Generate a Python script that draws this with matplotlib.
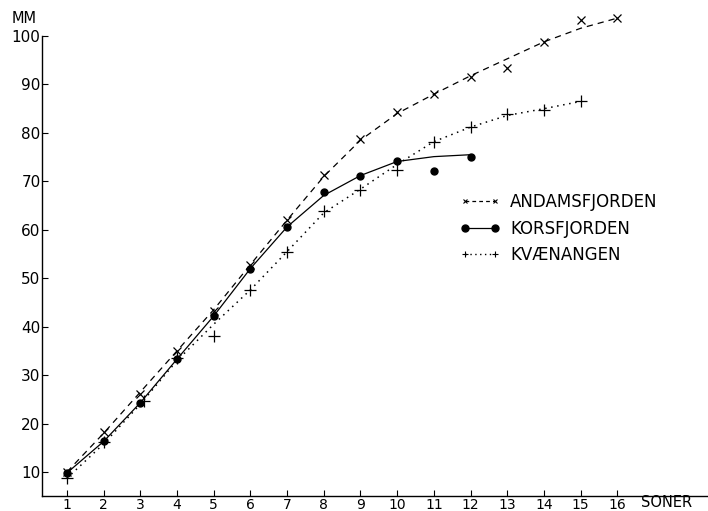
import numpy as np
import matplotlib
matplotlib.use("Agg")
import matplotlib.pyplot as plt
from matplotlib.lines import Line2D

# ----------------------------------------------------------------------
# DATA
# ----------------------------------------------------------------------

# soner (zones) on the x axis
soner = list(range(1, 17))

# measured points (mm)
andamsfjorden = [10, 18.2, 26.1, 34.9, 43.3, 52.7, 62, 71.4, 78.8,
                 84.3, 88, 91.6, 93.5, 98.8, 103.3, 103.7]
korsfjorden = [9.8, 16.3, 24.3, 33.3, 42.2, 52, 60.6, 67.9, 71.2,
               74.1, 72.1, 75.1]
kvaenangen = [8.7, 16.1, 24.7, 33.5, 38, 47.6, 55.5, 63.9, 68.3,
              72.3, 78.2, 81.2, 84, 84.8, 86.5]

andamsfjorden_curve = [10, 18, 26.5, 35, 43.5, 52.8, 62, 71, 78.5,
                       84, 88, 91.8, 95.3, 98.8, 101.6, 103.7]
korsfjorden_curve = [9.8, 16.3, 24.3, 33.3, 42.2, 52, 60.6, 67.1, 71.2,
                     74.1, 75.1, 75.5]
kvaenangen_curve = [8.7, 15.8, 24, 33, 40.5, 47.6, 55.5, 63.5, 68.4,
                    73.5, 78.2, 81.2, 83.6, 85, 86.5]

# a few markers sit slightly off their zone line
kvaenangen_x = [1, 2, 3.1, 4, 5, 6, 7, 8, 9, 10, 11, 12, 13, 14, 15]

y_ticks = list(range(10, 101, 10))

# ----------------------------------------------------------------------
# PLOT
# ----------------------------------------------------------------------

fig = plt.figure(figsize=(7.08, 5.11), dpi=100)
ax = fig.add_axes([0.0593, 0.029, 0.9407, 0.9005])

n_a = len(andamsfjorden)
n_k = len(korsfjorden)
n_v = len(kvaenangen)

# curves
ax.plot(soner[:n_a], andamsfjorden_curve, color="black", lw=0.9,
        linestyle=(0, (5, 4)), clip_on=False)
ax.plot(soner[:n_k], korsfjorden_curve, color="black", lw=0.9,
        linestyle="-", clip_on=False)
ax.plot(soner[:n_v], kvaenangen_curve, color="black", lw=1.1,
        linestyle=(0, (1, 3)), clip_on=False)

# points
ax.plot(soner[:n_a], andamsfjorden, "x", color="black", ms=5.5, mew=0.9,
        clip_on=False)
ax.plot(soner[:n_k], korsfjorden, "o", color="black", ms=5, clip_on=False)
ax.plot(kvaenangen_x, kvaenangen, "+", color="black", ms=8, mew=0.9,
        clip_on=False)

ax.set_xlim(0.32, 18.47)
ax.set_ylim(5, 100)

ax.set_xticks(soner)
ax.set_xticklabels([str(s) for s in soner])
ax.set_yticks(y_ticks)
ax.set_yticklabels([str(t) for t in y_ticks])

ax.tick_params(direction="in", length=4, width=0.8, labelsize=11)
ax.tick_params(axis="x", labelsize=10, pad=1)
ax.tick_params(axis="y", pad=1)

for side in ("top", "right"):
    ax.spines[side].set_visible(False)
for side in ("left", "bottom"):
    ax.spines[side].set_linewidth(1.0)

fig.text(0.017, 0.963, "MM", fontsize=10.5, ha="left", va="center")
fig.text(0.905, 0.001, "SONER", fontsize=10.5, ha="left", va="bottom")

# legend
handles = [
    Line2D([], [], color="black", lw=0.9, linestyle=(0, (3, 2.5)),
           marker="x", ms=3.5, mew=0.8),
    Line2D([], [], color="black", lw=0.9, linestyle="-",
           marker="o", ms=5),
    Line2D([], [], color="black", lw=1.0, linestyle=(0, (1, 2.5)),
           marker="+", ms=5, mew=0.8),
]
labels = ["ANDAMSFJORDEN", "KORSFJORDEN", "KVÆNANGEN"]
ax.legend(handles, labels, loc="upper left",
          bbox_to_anchor=(452 / 708, 1 - 185 / 511),
          bbox_transform=fig.transFigure, frameon=False,
          fontsize=12, handlelength=2.4, handletextpad=0.6,
          labelspacing=0.5, borderpad=0, numpoints=2)

fig.savefig("out.png", dpi=100)
